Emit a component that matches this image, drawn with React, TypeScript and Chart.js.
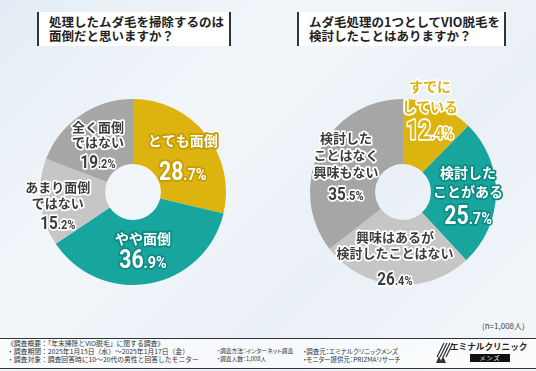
import React, { useEffect, useRef } from "react";
import { Chart, registerables } from "chart.js";
Chart.register(...registerables);

// ---- data ----
const leftTitle = ["処理したムダ毛を掃除するのは", "面倒だと思いますか？"];
const rightTitle = ["ムダ毛処理の1つとしてVIO脱毛を", "検討したことはありますか？"];
const leftCategories = [["とても面倒"], ["やや面倒"], ["あまり面倒", "ではない"], ["全く面倒", "ではない"]];
const leftValues = [28.7, 36.9, 15.2, 19.2];
const rightCategories = [["すでに", "している"], ["検討した", "ことがある"], ["興味はあるが", "検討したことはない"], ["検討した", "ことはなく", "興味もない"]];
const rightValues = [12.4, 25.7, 26.4, 35.5];
const sampleNote = "(n=1,008人)";
const footerLines = [
  ["《調査概要：「年末掃除とVIO脱毛」に関する調査》"],
  ["・調査期間：2025年1月15日（水）～2025年1月17日（金）", "・調査方法：インターネット調査", "・調査元：エミナルクリニックメンズ"],
  ["・調査対象：調査回答時に10～20代の男性と回答したモニター", "・調査人数：1,008人", "・モニター提供元：PRIZMAリサーチ"],
];

// ---- style ----
const GOLD = "#DDB30F";
const TEAL = "#17A59D";
const LGRAY = "#C6C6C6";
const GRAY = "#A6A6A6";
const sliceColors = [GOLD, TEAL, LGRAY, GRAY];
const JP = "'Noto Sans CJK JP', 'Noto Sans', sans-serif";

type LabelStyle = { r: number; da: number; fill: string; stroke: string; big: boolean; jpSize: number; jpLH: number; gap: number };
const darkLbl = { fill: "#3c3c3c", stroke: "#ffffff", big: false };
const leftStyles: LabelStyle[] = [
  { r: 0.66, da: 2.5, fill: "#ffffff", stroke: "#C39C00", big: true, jpSize: 14, jpLH: 18, gap: 30 },
  { r: 0.62, da: 0.3, fill: "#ffffff", stroke: "#0E8A83", big: true, jpSize: 14, jpLH: 18, gap: 21 },
  { r: 0.82, da: -3.3, ...darkLbl, jpSize: 13, jpLH: 16, gap: 20 },
  { r: 0.635, da: -1.8, ...darkLbl, jpSize: 13, jpLH: 15, gap: 20 },
];
const rightStyles: LabelStyle[] = [
  { r: 0.944, da: -4.4, fill: GOLD, stroke: "#ffffff", big: true, jpSize: 14, jpLH: 20, gap: 23 },
  { r: 0.7, da: 0.9, fill: "#ffffff", stroke: "#0E8A83", big: true, jpSize: 14, jpLH: 19, gap: 23 },
  { r: 0.71, da: 2.3, ...darkLbl, jpSize: 13, jpLH: 16, gap: 25 },
  { r: 0.676, da: -1.2, ...darkLbl, jpSize: 13, jpLH: 17, gap: 21 },
];

// footer column layout: x, font size, proportional kana
const footerCols = [
  { x: 7, size: 6.8, palt: false },
  { x: 217, size: 5.8, palt: true },
  { x: 303, size: 6.5, palt: true },
];

function drawLabels(chart: any, cats: string[][], values: number[], styles: LabelStyle[]) {
  const ctx = chart.ctx as CanvasRenderingContext2D;
  const meta = chart.getDatasetMeta(0);
  meta.data.forEach((arc: any, i: number) => {
    const p = arc.getProps(["x", "y", "startAngle", "endAngle", "outerRadius"], true);
    const st = styles[i];
    const ang = (p.startAngle + p.endAngle) / 2 + (st.da * Math.PI) / 180;
    const cx = p.x + Math.cos(ang) * p.outerRadius * st.r;
    const cy = p.y + Math.sin(ang) * p.outerRadius * st.r;
    const lines = cats[i];
    const span = (lines.length - 1) * st.jpLH + st.gap;
    const y = cy - span / 2;
    ctx.save();
    ctx.textAlign = "center";
    ctx.textBaseline = "middle";
    ctx.lineJoin = "round";
    ctx.font = `bold ${st.jpSize}px ${JP}`;
    lines.forEach((ln, k) => {
      const ly = y + k * st.jpLH;
      ctx.lineWidth = 3.5;
      ctx.strokeStyle = st.stroke;
      ctx.strokeText(ln, cx, ly);
      ctx.fillStyle = st.fill;
      ctx.fillText(ln, cx, ly);
    });
    // number
    const ny = y + (lines.length - 1) * st.jpLH + st.gap;
    const s = values[i].toFixed(1);
    const dot = s.indexOf(".");
    const intPart = s.slice(0, dot);
    const decPart = s.slice(dot) + "%";
    const bigSize = st.big ? 25 : 18;
    const smallSize = st.big ? 17 : 13;
    const squeeze = 0.85;
    const fBig = `bold ${bigSize}px Roboto, 'DejaVu Sans', sans-serif`;
    const fSmall = `bold ${smallSize}px Roboto, 'DejaVu Sans', sans-serif`;
    ctx.font = fBig;
    const w1 = ctx.measureText(intPart).width;
    ctx.font = fSmall;
    const w2 = ctx.measureText(decPart).width;
    const total = (w1 + w2) * squeeze;
    ctx.translate(cx - total / 2, ny + bigSize * 0.36);
    ctx.scale(squeeze, 1);
    ctx.textAlign = "left";
    ctx.textBaseline = "alphabetic";
    ctx.lineWidth = 3.5;
    ctx.strokeStyle = st.stroke;
    ctx.fillStyle = st.fill;
    ctx.font = fBig;
    ctx.strokeText(intPart, 0, 0);
    ctx.fillText(intPart, 0, 0);
    ctx.font = fSmall;
    ctx.strokeText(decPart, w1, 0);
    ctx.fillText(decPart, w1, 0);
    ctx.restore();
  });
}

function Donut(props: { values: number[]; cats: string[][]; styles: LabelStyle[]; pad: { left: number; right: number; top: number; bottom: number } }) {
  const ref = useRef<HTMLCanvasElement>(null);
  useEffect(() => {
    if (!ref.current) return;
    const chart = new Chart(ref.current, {
      type: "doughnut",
      data: {
        labels: props.cats.map((c) => c.join("")),
        datasets: [{ data: props.values, backgroundColor: sliceColors, borderWidth: 0 }],
      },
      options: {
        responsive: false,
        animation: false,
        cutout: "30%",
        layout: { padding: props.pad },
        plugins: { legend: { display: false }, tooltip: { enabled: false } },
      },
      plugins: [
        {
          id: "sliceLabels",
          afterDatasetsDraw(c: any) {
            drawLabels(c, props.cats, props.values, props.styles);
          },
        },
      ],
    });
    return () => chart.destroy();
  }, []);
  return <canvas ref={ref} width={268} height={240} style={{ width: 268, height: 240, display: "block" }} />;
}

function TitleBox(props: { left: number; width: number; lines: string[] }) {
  return (
    <div
      style={{
        position: "absolute",
        left: props.left,
        top: 12,
        width: props.width,
        height: 34,
        boxSizing: "border-box",
        background: "#ffffff",
        borderLeft: "2px solid #333",
        borderRight: "2px solid #333",
        padding: "3px 0 0 10px",
        fontFamily: JP,
        fontWeight: 700,
        fontSize: 12.5,
        lineHeight: "14px",
        color: "#222",
        whiteSpace: "nowrap",
      }}
    >
      {props.lines.map((l, i) => (
        <div key={i}>{l}</div>
      ))}
    </div>
  );
}

function Logo() {
  return (
    <div style={{ position: "absolute", left: 433, top: 339, width: 103, height: 28 }}>
      <svg width={20} height={24} style={{ position: "absolute", left: 0, top: 2 }}>
        {[0, 3, 6, 9].map((o) => (
          <line key={o} x1={4 + o} y1={16} x2={11 + o} y2={2} stroke="#333" strokeWidth={1.2} />
        ))}
        <polygon points="3,22 6,15 9,22" fill="#333" />
        <polygon points="7,22 10,15 13,22" fill="#333" />
      </svg>
      <div style={{ position: "absolute", left: 17, top: 1, fontFamily: JP, fontWeight: 700, fontSize: 8.6, color: "#222", whiteSpace: "nowrap" }}>
        エミナルクリニック
      </div>
      <div
        style={{
          position: "absolute",
          left: 37,
          top: 15,
          width: 40,
          height: 8,
          background: "#111",
          color: "#fff",
          fontFamily: JP,
          fontSize: 6,
          lineHeight: "8px",
          textAlign: "center",
          letterSpacing: 1,
        }}
      >
        メンズ
      </div>
    </div>
  );
}

export default function App() {
  return (
    <div
      style={{
        position: "absolute",
        left: 0,
        top: 0,
        width: 536,
        height: 371,
        overflow: "hidden",
        background: "linear-gradient(135deg, #e3edf5 0%, #f2f6fa 35%, #e9f0f6 65%, #f3f7fa 100%)",
      }}
    >
      <TitleBox left={37} width={194} lines={leftTitle} />
      <TitleBox left={297} width={209} lines={rightTitle} />
      <div style={{ position: "absolute", left: 0, top: 60 }}>
        <Donut values={leftValues} cats={leftCategories} styles={leftStyles} pad={{ left: 40, right: 42, top: 39, bottom: 15 }} />
      </div>
      <div style={{ position: "absolute", left: 268, top: 60 }}>
        <Donut values={rightValues} cats={rightCategories} styles={rightStyles} pad={{ left: 42, right: 40, top: 39, bottom: 15 }} />
      </div>
      <div style={{ position: "absolute", left: 482, top: 320, fontFamily: JP, fontSize: 8, color: "#444", whiteSpace: "nowrap" }}>{sampleNote}</div>
      <div
        style={{
          position: "absolute",
          left: 0,
          top: 338,
          width: 536,
          height: 31,
          boxSizing: "border-box",
          borderTop: "1.5px solid #333",
          borderBottom: "1.5px solid #333",
          background: "rgba(255,255,255,0.6)",
        }}
      />
      {footerLines.map((row, r) =>
        row.map((t, c) => (
          <div
            key={r + "-" + c}
            style={{
              position: "absolute",
              left: footerCols[c].x,
              top: 339 + r * 8,
              fontFamily: JP,
              fontSize: footerCols[c].size,
              lineHeight: "8px",
              color: "#333",
              whiteSpace: "nowrap",
              fontFeatureSettings: footerCols[c].palt ? "'palt'" : "normal",
            }}
          >
            {t}
          </div>
        ))
      )}
      <Logo />
    </div>
  );
}
